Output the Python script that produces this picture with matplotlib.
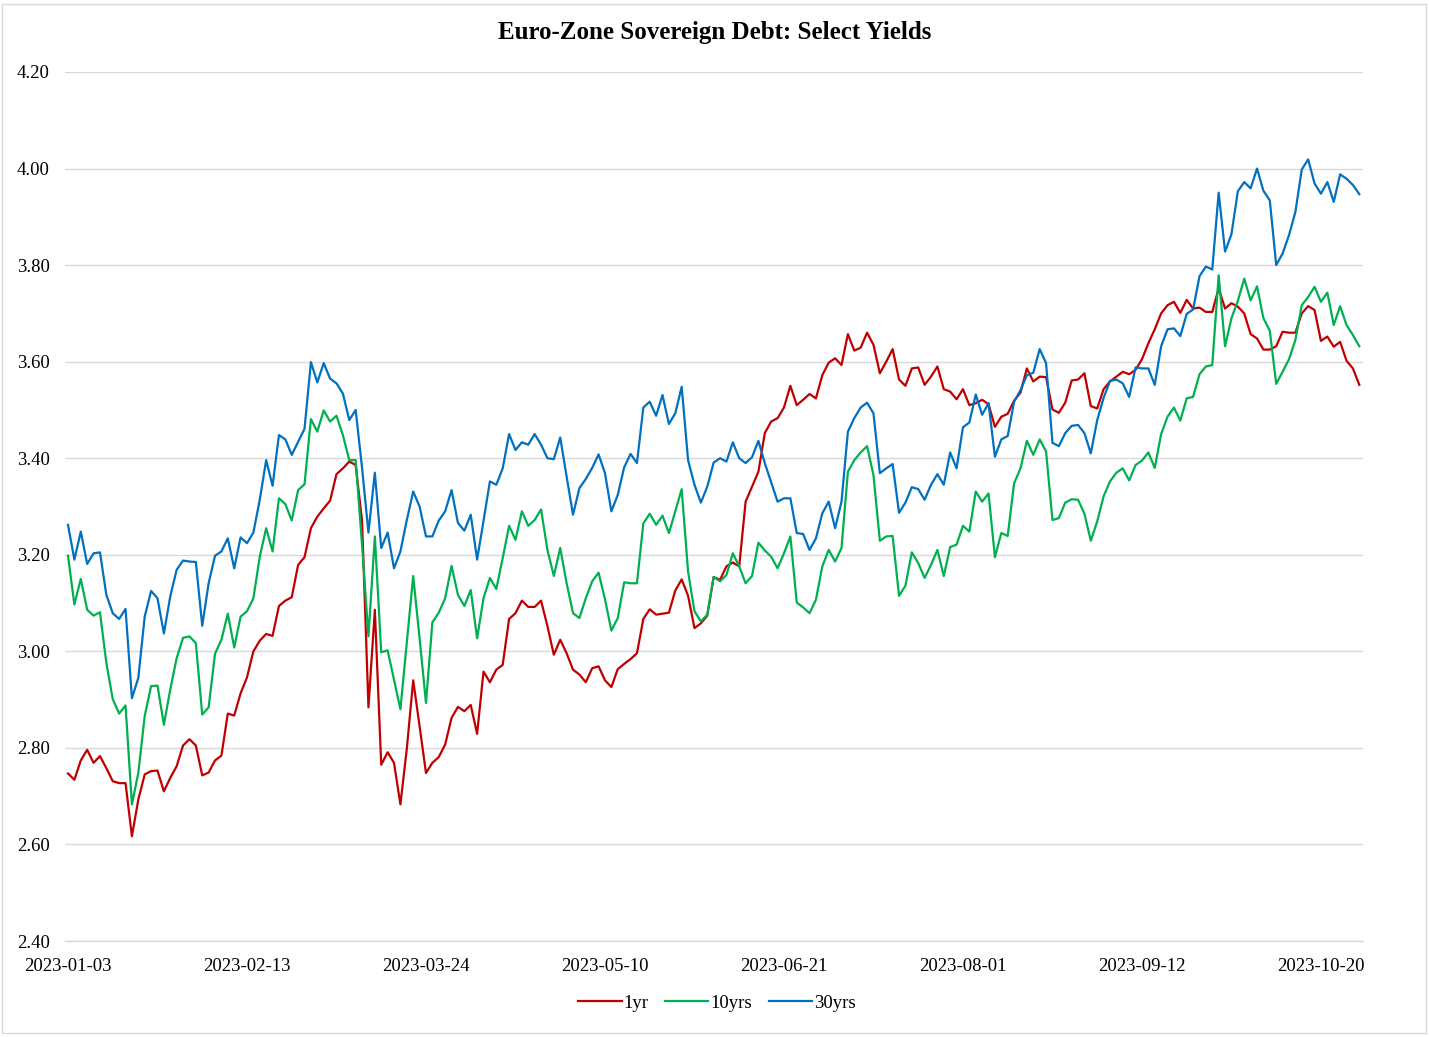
import matplotlib
matplotlib.use("Agg")
import matplotlib.pyplot as plt
from matplotlib.patches import Rectangle
import numpy as np

# ---------------- data ----------------
tick_labels = ["2023-01-03", "2023-02-13", "2023-03-24", "2023-05-10",
               "2023-06-21", "2023-08-01", "2023-09-12", "2023-10-20"]
tick_step = 28  # observations between labelled dates

yr1 = [
    2.747, 2.734, 2.774, 2.796, 2.769, 2.783, 2.758, 2.731, 2.727, 2.727, 2.617, 2.693, 2.745, 2.752, 2.753, 2.710, 2.738, 2.762, 2.805, 2.818, 2.805,
    2.743, 2.749, 2.774, 2.784, 2.871, 2.867, 2.913, 2.946, 3.000, 3.022, 3.036, 3.032, 3.094, 3.105, 3.112, 3.179, 3.195, 3.255, 3.279, 3.296, 3.312,
    3.367, 3.379, 3.393, 3.386, 3.270, 2.884, 3.086, 2.765, 2.791, 2.769, 2.683, 2.798, 2.940, 2.845, 2.748, 2.769, 2.781, 2.807, 2.862, 2.885,
    2.876, 2.889, 2.829, 2.958, 2.936, 2.962, 2.972, 3.067, 3.079, 3.105, 3.092, 3.092, 3.105, 3.052, 2.993, 3.024, 2.996, 2.962, 2.952, 2.936, 2.965,
    2.969, 2.940, 2.926, 2.963, 2.974, 2.984, 2.996, 3.067, 3.087, 3.076, 3.078, 3.080, 3.126, 3.149, 3.115, 3.048, 3.058, 3.074, 3.154, 3.148,
    3.176, 3.184, 3.176, 3.310, 3.341, 3.372, 3.452, 3.476, 3.483, 3.505, 3.550, 3.510, 3.521, 3.533, 3.524, 3.572, 3.598, 3.607, 3.593, 3.657,
    3.623, 3.629, 3.660, 3.635, 3.576, 3.600, 3.626, 3.563, 3.550, 3.586, 3.588, 3.552, 3.569, 3.590, 3.543, 3.538, 3.522, 3.543, 3.510, 3.514,
    3.521, 3.512, 3.465, 3.486, 3.492, 3.519, 3.536, 3.586, 3.559, 3.569, 3.568, 3.501, 3.494, 3.515, 3.561, 3.563, 3.576, 3.508, 3.503, 3.543, 3.559,
    3.569, 3.579, 3.574, 3.583, 3.605, 3.638, 3.667, 3.700, 3.717, 3.724, 3.701, 3.728, 3.710, 3.712, 3.703, 3.703, 3.752, 3.710, 3.721, 3.714,
    3.700, 3.657, 3.648, 3.625, 3.625, 3.632, 3.662, 3.660, 3.660, 3.700, 3.715, 3.707, 3.643, 3.652, 3.631, 3.641, 3.602, 3.586, 3.552,
]

yrs10 = [
    3.198, 3.097, 3.150, 3.086, 3.074, 3.081, 2.976, 2.901, 2.871, 2.888, 2.683, 2.748, 2.866, 2.928, 2.929, 2.848, 2.921, 2.986, 3.028, 3.031, 3.017,
    2.869, 2.884, 2.995, 3.024, 3.078, 3.008, 3.072, 3.083, 3.110, 3.196, 3.255, 3.207, 3.317, 3.305, 3.271, 3.334, 3.346, 3.481, 3.455, 3.499, 3.476,
    3.488, 3.448, 3.396, 3.396, 3.220, 3.031, 3.238, 2.998, 3.002, 2.941, 2.880, 3.017, 3.156, 3.027, 2.893, 3.060, 3.080, 3.110, 3.177, 3.117,
    3.094, 3.127, 3.027, 3.110, 3.152, 3.129, 3.193, 3.260, 3.231, 3.290, 3.260, 3.272, 3.294, 3.210, 3.156, 3.214, 3.141, 3.079, 3.069, 3.110, 3.145,
    3.163, 3.108, 3.043, 3.069, 3.143, 3.141, 3.141, 3.265, 3.285, 3.262, 3.281, 3.245, 3.290, 3.336, 3.165, 3.083, 3.062, 3.076, 3.154, 3.145,
    3.158, 3.203, 3.176, 3.141, 3.156, 3.225, 3.209, 3.196, 3.172, 3.203, 3.238, 3.101, 3.091, 3.079, 3.107, 3.176, 3.210, 3.186, 3.214, 3.372,
    3.396, 3.412, 3.425, 3.365, 3.229, 3.238, 3.239, 3.115, 3.136, 3.205, 3.183, 3.152, 3.179, 3.210, 3.156, 3.216, 3.221, 3.260, 3.248, 3.331,
    3.310, 3.327, 3.195, 3.245, 3.239, 3.348, 3.379, 3.436, 3.407, 3.439, 3.414, 3.272, 3.276, 3.308, 3.315, 3.314, 3.285, 3.229, 3.269, 3.321, 3.352,
    3.370, 3.379, 3.354, 3.386, 3.395, 3.412, 3.380, 3.450, 3.486, 3.505, 3.478, 3.524, 3.527, 3.574, 3.590, 3.593, 3.779, 3.632, 3.690, 3.726,
    3.772, 3.727, 3.756, 3.690, 3.664, 3.554, 3.579, 3.605, 3.645, 3.717, 3.734, 3.755, 3.724, 3.743, 3.676, 3.715, 3.676, 3.655, 3.632,
]

yrs30 = [
    3.262, 3.190, 3.248, 3.181, 3.203, 3.205, 3.117, 3.079, 3.067, 3.088, 2.903, 2.945, 3.072, 3.125, 3.110, 3.037, 3.114, 3.169, 3.188, 3.186, 3.185,
    3.053, 3.141, 3.198, 3.207, 3.234, 3.172, 3.236, 3.224, 3.246, 3.314, 3.396, 3.343, 3.448, 3.439, 3.407, 3.434, 3.461, 3.599, 3.557, 3.597, 3.565,
    3.555, 3.534, 3.479, 3.500, 3.380, 3.246, 3.370, 3.214, 3.246, 3.172, 3.207, 3.272, 3.331, 3.300, 3.238, 3.238, 3.271, 3.290, 3.334, 3.266,
    3.250, 3.283, 3.190, 3.270, 3.352, 3.345, 3.379, 3.450, 3.417, 3.433, 3.428, 3.450, 3.428, 3.400, 3.398, 3.443, 3.362, 3.283, 3.338, 3.357, 3.380,
    3.408, 3.369, 3.290, 3.324, 3.381, 3.409, 3.390, 3.505, 3.517, 3.488, 3.531, 3.471, 3.493, 3.548, 3.396, 3.345, 3.308, 3.341, 3.391, 3.400,
    3.393, 3.433, 3.400, 3.390, 3.402, 3.436, 3.390, 3.350, 3.310, 3.317, 3.317, 3.245, 3.243, 3.210, 3.234, 3.286, 3.310, 3.255, 3.310, 3.455,
    3.483, 3.505, 3.515, 3.493, 3.369, 3.379, 3.388, 3.287, 3.308, 3.340, 3.336, 3.314, 3.345, 3.367, 3.345, 3.412, 3.379, 3.464, 3.474, 3.532,
    3.490, 3.514, 3.403, 3.439, 3.446, 3.517, 3.541, 3.572, 3.577, 3.626, 3.597, 3.432, 3.425, 3.452, 3.467, 3.469, 3.452, 3.410, 3.479, 3.525, 3.560,
    3.563, 3.555, 3.527, 3.588, 3.586, 3.586, 3.552, 3.632, 3.667, 3.669, 3.653, 3.699, 3.708, 3.777, 3.797, 3.791, 3.950, 3.828, 3.864, 3.953,
    3.972, 3.959, 4.000, 3.954, 3.934, 3.800, 3.824, 3.862, 3.910, 3.998, 4.019, 3.969, 3.948, 3.972, 3.931, 3.988, 3.979, 3.966, 3.947,
]

series_names = ["1yr", "10yrs", "30yrs"]
series_colors = ["#C00000", "#00B050", "#0070C0"]
y_ticks = [2.40, 2.60, 2.80, 3.00, 3.20, 3.40, 3.60, 3.80, 4.00, 4.20]

# ---------------- figure ----------------
plt.rcParams["font.family"] = ["Liberation Serif", "DejaVu Serif"]
W, H = 1429, 1037
fig = plt.figure(figsize=(W / 100, H / 100), dpi=100)

left_px, right_px, top_px, bot_px = 64.8, 1362.5, 72, 941
ax = fig.add_axes([left_px / W, 1 - bot_px / H, (right_px - left_px) / W, (bot_px - top_px) / H])

x = np.arange(len(yr1))
for vals, name, col in zip([yr1, yrs10, yrs30], series_names, series_colors):
    ax.plot(x, vals, color=col, lw=1.6, label=name, solid_joinstyle="round")

ax.set_xlim(-0.5, len(yr1) - 0.5)
ax.set_ylim(y_ticks[0], y_ticks[-1])
ax.set_yticks(y_ticks)
ax.set_yticklabels([f"{v:.2f}" for v in y_ticks])
ax.set_xticks([i * tick_step for i in range(len(tick_labels))])
ax.set_xticklabels(tick_labels)
ax.grid(axis="y", color="#d9d9d9", lw=1.0)
ax.set_axisbelow(True)
for s in ax.spines.values():
    s.set_visible(False)
ax.spines["bottom"].set_visible(True)
ax.spines["bottom"].set_color("#d9d9d9")
ax.spines["bottom"].set_linewidth(1.0)
ax.tick_params(axis="both", length=0, labelsize=13.5, colors="black")
ax.tick_params(axis="y", pad=11)
ax.tick_params(axis="x", pad=12)

fig.text(0.5, 1 - 32 / H, "Euro-Zone Sovereign Debt: Select Yields",
         ha="center", va="center", fontsize=18, fontweight="bold")

fig.legend(loc="center", bbox_to_anchor=(717 / W, 1 - 1003 / H), ncol=3,
           frameon=False, fontsize=13.5, handlelength=2.3, columnspacing=0.9,
           handletextpad=0.1)

fig.patches.append(Rectangle((2 / W, 4 / H), (W - 5) / W, (H - 8) / H,
                             transform=fig.transFigure, fill=False,
                             edgecolor="#d9d9d9", lw=1.0))

fig.savefig("out.png", dpi=100)
